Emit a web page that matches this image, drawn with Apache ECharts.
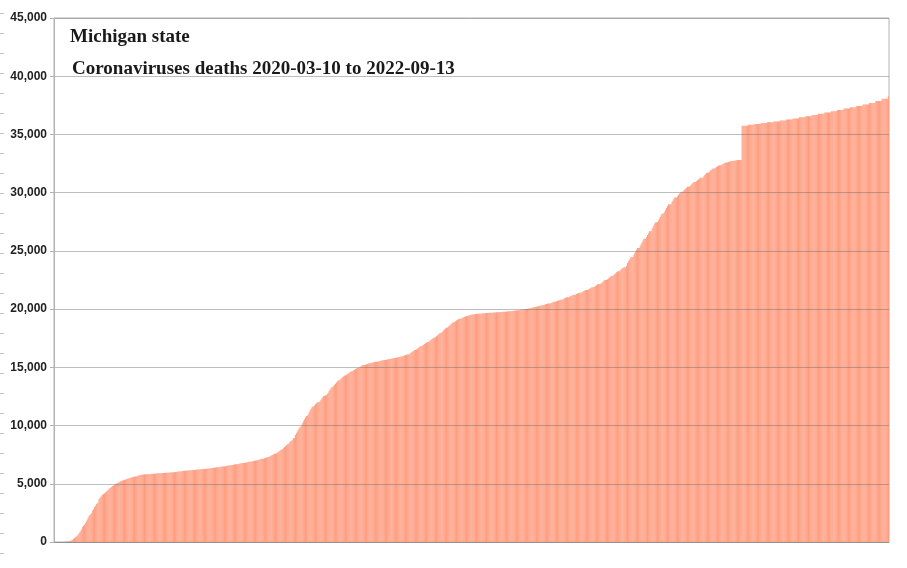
<!DOCTYPE html>
<html>
<head>
<meta charset="utf-8">
<script src="https://cdn.jsdelivr.net/npm/echarts@6/dist/echarts.min.js"></script>
<style>html,body{margin:0;padding:0;background:#fff;}#c{width:907px;height:568px;}</style>
</head>
<body>
<div id="c"></div>
<script>
// Cumulative coronavirus deaths, Michigan, daily from 2020-03-10 to 2022-09-13
var startDate = '2020-03-10';
var titleLine1 = 'Michigan state';
var titleLine2 = 'Coronaviruses deaths 2020-03-10 to 2022-09-13';
var yTicks = [0, 5000, 10000, 15000, 20000, 25000, 30000, 35000, 40000, 45000];

var deaths2020 = [
 0,0,0,0,0,0,0,0,1,3,5,9,15,17,24,43,60,92,111,132,184,259,
 337,417,479,540,618,727,845,959,1076,1281,1392,1487,1602,1768,1921,2093,2227,2308,2391,2468,2700,2813,2977,3085,3274,3315,3407,3670,3788,3866,
 3985,4061,4119,4166,4251,4322,4396,4461,4574,4633,4671,4745,4812,4857,4918,4969,5007,5036,5093,5144,5188,5226,5258,5286,5304,5322,5369,5398,5427,5446,5468,
 5491,5516,5553,5570,5595,5609,5620,5632,5673,5698,5738,5756,5767,5772,5774,5790,5792,5805,5818,5823,5825,5826,5840,5847,5853,5859,5862,5864,5868,5881,
 5887,5895,5902,5902,5905,5907,5915,5920,5935,5944,5948,5951,5951,5961,5970,5977,5985,5990,5993,5994,6006,6019,6026,6044,6058,6062,6066,6085,6094,6107,6124,
 6128,6129,6134,6142,6156,6163,6170,6172,6174,6176,6188,6198,6208,6217,6220,6227,6229,6237,6250,6262,6272,6274,6275,6282,6290,6305,6318,6330,6340,6341,6352,
 6366,6381,6396,6412,6414,6415,6432,6448,6461,6474,6491,6493,6494,6512,6530,6547,6561,6578,6580,6582,6605,6620,6641,6660,6677,6679,6680,6705,6723,6740,
 6756,6771,6783,6785,6798,6815,6832,6850,6866,6884,6886,6899,6918,6940,6960,6980,7000,7002,7018,7044,7071,7097,7119,7140,7142,7160,7192,7224,7254,7280,7310,
 7330,7362,7398,7440,7485,7530,7572,7575,7620,7672,7730,7790,7852,7915,7918,7990,8070,8150,8230,8315,8400,8403,8495,8590,8690,8693,8810,8925,8935,9180,
 9330,9480,9620,9760,9890,9895,10060,10230,10390,10540,10690,10830,10835,10980,11140,11300,11430,11540,11630,11635,11720,11830,11920,12010,12012,12014,12080,12210,12320,12430,12540
];
var deaths2021 = [
 12550,12600,12605,12700,12820,12960,13090,13200,13300,13305,13400,13500,13600,13700,13790,13860,13862,13930,14010,14090,14170,14240,14300,14302,14360,14420,14480,14540,14600,14640,14642,
 14690,14740,14800,14860,14910,14950,14952,14990,15040,15090,15130,15170,15200,15202,15230,15260,15290,15320,15345,15365,15367,15390,15410,15430,15450,15470,15485,15487,
 15505,15525,15545,15565,15585,15600,15602,15620,15640,15660,15680,15700,15712,15714,15730,15750,15770,15790,15810,15825,15827,15845,15865,15890,15915,15940,15955,15957,15985,16015,16050,
 16080,16110,16130,16132,16190,16250,16310,16370,16430,16480,16482,16540,16600,16660,16720,16780,16830,16832,16890,16950,17010,17070,17130,17180,17182,17240,17300,17360,17420,17480,
 17530,17532,17600,17670,17740,17810,17880,17950,17952,18020,18100,18180,18260,18340,18410,18412,18480,18560,18640,18710,18780,18840,18842,18900,18960,19020,19080,19130,19170,19172,19174,
 19220,19270,19310,19350,19380,19382,19410,19440,19470,19495,19515,19530,19532,19545,19560,19575,19585,19595,19600,19602,19612,19622,19630,19638,19645,19650,19651,19658,19665,19672,
 19680,19688,19690,19690,19692,19700,19708,19716,19724,19726,19727,19734,19742,19750,19758,19766,19768,19769,19778,19788,19798,19808,19818,19820,19821,19832,19844,19856,19868,19880,19882,
 19883,19896,19910,19925,19940,19956,19958,19959,19980,20000,20020,20040,20060,20062,20063,20090,20115,20140,20165,20190,20192,20193,20220,20245,20270,20295,20320,20322,20323,20355,20385,
 20415,20445,20475,20477,20478,20480,20520,20555,20590,20625,20627,20628,20665,20700,20735,20770,20805,20807,20808,20850,20890,20930,20970,21010,21012,21013,21055,21095,21135,21175,
 21210,21212,21213,21250,21290,21330,21370,21410,21412,21413,21455,21500,21545,21590,21635,21637,21638,21685,21735,21785,21835,21885,21887,21888,21940,21995,22050,22105,22160,22162,22163,
 22230,22295,22360,22425,22490,22492,22493,22560,22630,22700,22770,22840,22842,22843,22920,23000,23080,23160,23240,23242,23243,23330,23420,23510,23512,23600,23602,23603,23700,23950,
 24120,24240,24360,24480,24482,24483,24640,24790,24940,25090,25240,25242,25243,25400,25560,25720,25880,26040,26042,26043,26200,26360,26520,26680,26682,26683,26850,27020,27190,27360,27450
];
var deaths2022 = [
 27452,27453,27600,27750,27900,28050,28200,28202,28203,28380,28540,28700,28860,29010,29012,29013,29014,29200,29330,29460,29580,29582,29583,29700,29800,29900,29990,30080,30082,30083,30200,
 30280,30360,30430,30500,30502,30503,30600,30680,30760,30840,30920,30922,30923,31000,31070,31140,31210,31280,31282,31283,31284,31420,31520,31610,31700,31702,31703,31800,
 31880,31950,32010,32070,32072,32073,32150,32210,32260,32310,32360,32362,32363,32420,32470,32510,32550,32590,32592,32593,32630,32660,32690,32710,32730,32731,32732,32750,32765,32780,32795,
 32810,32810,32810,32810,35750,35750,35750,35750,35750,35750,35750,35830,35830,35830,35830,35830,35830,35830,35905,35905,35905,35905,35905,35905,35905,35980,35980,35980,35980,35980,
 35980,35980,36050,36050,36050,36050,36050,36050,36050,36120,36120,36120,36120,36120,36120,36120,36195,36195,36195,36195,36195,36195,36195,36280,36280,36280,36280,36280,36280,36280,36370,
 36370,36370,36370,36370,36370,36370,36470,36470,36470,36470,36470,36470,36470,36570,36570,36570,36570,36570,36570,36570,36670,36670,36670,36670,36670,36670,36670,36780,36780,36780,
 36780,36780,36780,36780,36890,36890,36890,36890,36890,36890,36890,36990,36990,36990,36990,36990,36990,36990,37100,37100,37100,37100,37100,37100,37100,37220,37220,37220,37220,37220,37220,
 37220,37330,37330,37330,37330,37330,37330,37330,37450,37450,37450,37450,37450,37450,37450,37570,37570,37570,37570,37570,37570,37570,37700,37700,37700,37700,37700,37700,37700,37870,37870,
 37870,37870,37870,37870,37870,38060,38060,38060,38060,38060,38060,38060,38270
];

var deaths = deaths2020.concat(deaths2021, deaths2022);

// category labels (one per day)
var dates = [];
(function () {
  var d = new Date(startDate + 'T00:00:00Z');
  for (var i = 0; i < deaths.length; i++) {
    dates.push(d.toISOString().slice(0, 10));
    d.setUTCDate(d.getUTCDate() + 1);
  }
})();

// decorative tick marks at the far left edge
var edgeMarks = [0, 27];

var chart = echarts.init(document.getElementById('c'), null, {renderer: 'canvas'});
var option = {
  animation: false,
  backgroundColor: '#ffffff',
  title: [
    {text: titleLine1, left: 70, top: 28, padding: 0,
     textStyle: {fontFamily: 'Liberation Serif', fontWeight: 'bold', fontSize: 19, color: '#1a1a1a'}},
    {text: titleLine2, left: 72, top: 60, padding: 0,
     textStyle: {fontFamily: 'Liberation Serif', fontWeight: 'bold', fontSize: 19, color: '#1a1a1a'}}
  ],
  grid: [
    {left: 54, right: 18, top: 18, bottom: 26, show: true, borderColor: '#b3b3b3', borderWidth: 1, backgroundColor: 'transparent'},
    {left: 4, width: 1, top: 13.5, height: 540, show: false}
  ],
  xAxis: [
    {type: 'category', data: dates, gridIndex: 0, boundaryGap: true,
     axisLine: {show: true, lineStyle: {color: '#b3b3b3'}},
     axisTick: {show: false}, axisLabel: {show: false}, splitLine: {show: false}},
    {type: 'value', gridIndex: 1, show: false}
  ],
  yAxis: [
    {type: 'value', gridIndex: 0, min: yTicks[0], max: yTicks[yTicks.length - 1], interval: yTicks[1] - yTicks[0], z: 5,
     axisLine: {show: true, lineStyle: {color: '#b3b3b3'}},
     axisTick: {show: true, length: 4, lineStyle: {color: '#b3b3b3'}},
     axisLabel: {margin: 7, color: '#222', fontFamily: 'Liberation Sans', fontWeight: 'bold', fontSize: 12,
       formatter: function (v) { return v.toLocaleString('en-US'); }},
     splitLine: {show: true, lineStyle: {color: 'rgba(100,100,100,0.42)', width: 1}}},
    {type: 'value', gridIndex: 1, min: edgeMarks[0], max: edgeMarks[1], interval: 1, inverse: true,
     axisLine: {show: false}, axisLabel: {show: false}, splitLine: {show: false},
     axisTick: {show: true, length: 4, lineStyle: {color: '#c4c4c4'}}}
  ],
  series: [
    {type: 'bar', xAxisIndex: 0, yAxisIndex: 0, data: deaths, barCategoryGap: '14%',
     itemStyle: {color: '#ff9d80'}, silent: true}
  ]
};
chart.setOption(option);
</script>
</body>
</html>
